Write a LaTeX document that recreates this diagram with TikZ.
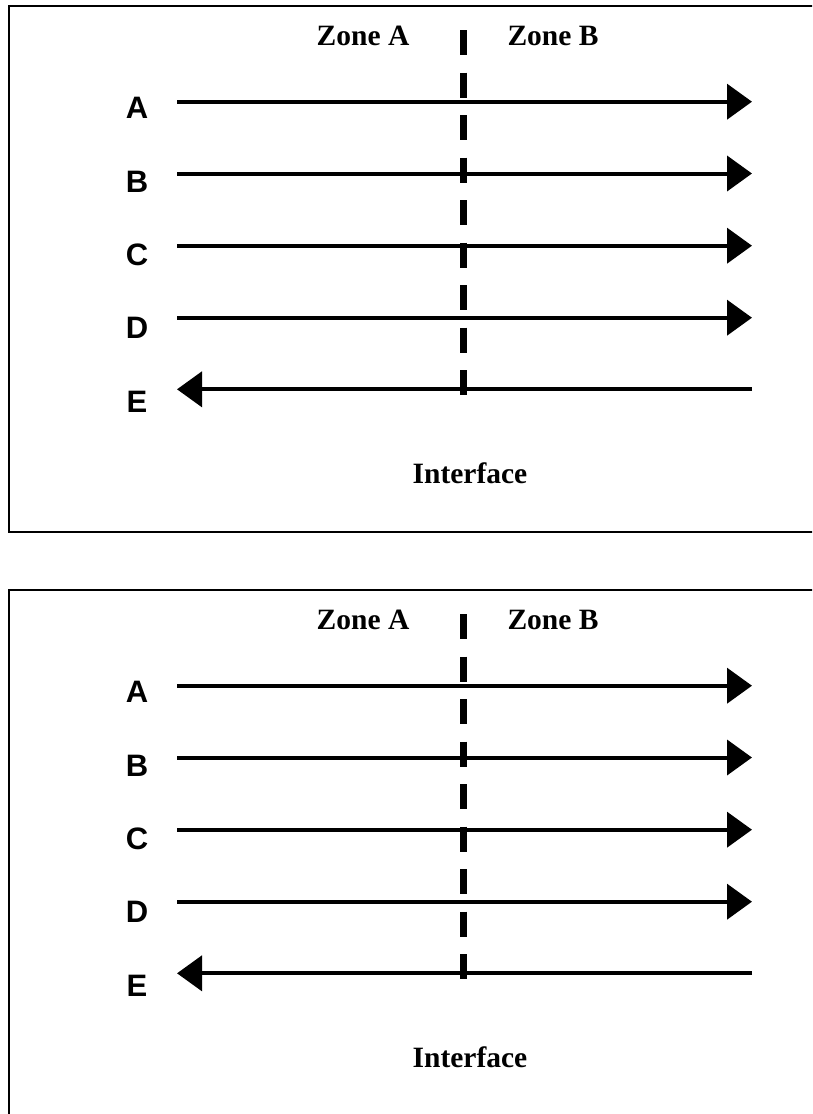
\documentclass[tikz,border=0pt]{standalone}
\usepackage{fontspec}
\setmainfont{Liberation Serif}
\newfontfamily\labelfont{Liberation Sans}
\usetikzlibrary{arrows.meta}
\tikzset{
  frame/.style={line width=2.5pt, draw=black},
  zonetext/.style={font=\fontsize{29.5}{30}\selectfont\bfseries, anchor=base, inner sep=0pt},
  rowlabel/.style={font=\labelfont\fontsize{31}{32}\selectfont\bfseries, anchor=base, inner sep=0pt},
  flow/.style={line width=4pt, -{Triangle[length=25pt,width=35pt]}},
  iface/.style={line width=7pt, dash pattern=on 25pt off 17.5pt}
}
\begin{document}
\begin{tikzpicture}[x=1pt, y=-1pt]
\useasboundingbox (0,0) rectangle (812,1114);
\clip (0,0) rectangle (812,1114);
\foreach \oy/\p in {0/t, 584/b} {
  \begin{scope}[yshift=-\oy pt]
    \draw[frame] (9,6) rectangle (830,532);
    \node[zonetext] (zA\p) at (363,45) {Zone A};
    \node[zonetext] (zB\p) at (553,45) {Zone B};
    \node[zonetext] (if\p) at (470,483) {Interface};
    \coordinate (dtop\p) at (463,30);
    \coordinate (dbot\p) at (463,395);
    \draw[iface] (dtop\p) -- (dbot\p);
    \foreach \n/\ly/\lb in {A/101.7/118, B/173.5/192, C/245.7/265, D/317.7/338} {
      \node[rowlabel] (l\n\p) at (137,\lb) {\n};
      \coordinate (s\n\p) at (177,\ly);
      \coordinate (e\n\p) at (752,\ly);
      \draw[flow] (s\n\p) -- (e\n\p);
    }
    \node[rowlabel] (lE\p) at (137,412) {E};
    \coordinate (sE\p) at (752,389.3);
    \coordinate (eE\p) at (177,389.3);
    \draw[flow] (sE\p) -- (eE\p);
  \end{scope}
}
\end{tikzpicture}
\end{document}
